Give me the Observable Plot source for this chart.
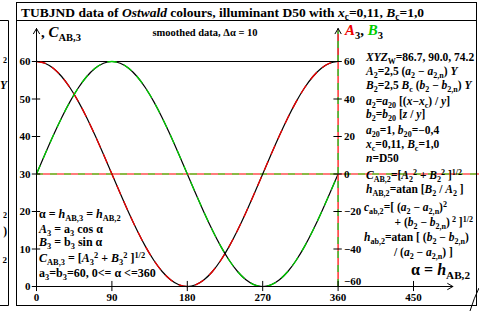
<!DOCTYPE html>
<html><head><meta charset="utf-8">
<script src="https://cdn.jsdelivr.net/npm/d3@7"></script>
<script src="https://cdn.jsdelivr.net/npm/@observablehq/plot@0.6"></script>
<style>
body{margin:0;background:#fff}
svg text{font-family:"Liberation Serif","Times New Roman",serif;white-space:pre}
</style>
</head><body><div id="chart"></div>
<script>
// hue angle alpha (degrees), smoothed data with step 10
const alpha = [0,10,20,30,40,50,60,70,80,90,100,110,120,130,140,150,160,170,180,190,200,210,220,230,240,250,260,270,280,290,300,310,320,330,340,350,360];
// A3 (right axis, red)
const A3 = [60,59.1,56.4,52.0,46.0,38.6,30.0,20.5,10.4,0,-10.4,-20.5,-30.0,-38.6,-46.0,-52.0,-56.4,-59.1,-60,-59.1,-56.4,-52.0,-46.0,-38.6,-30.0,-20.5,-10.4,0,10.4,20.5,30.0,38.6,46.0,52.0,56.4,59.1,60];
// B3 (right axis, green)
const B3 = [0,10.4,20.5,30.0,38.6,46.0,52.0,56.4,59.1,60,59.1,56.4,52.0,46.0,38.6,30.0,20.5,10.4,0,-10.4,-20.5,-30.0,-38.6,-46.0,-52.0,-56.4,-59.1,-60,-59.1,-56.4,-52.0,-46.0,-38.6,-30.0,-20.5,-10.4,0];
// C_AB,3 (left axis, black)
const cabAlpha = [0, 360];
const CAB3 = [60, 60];
// ticks
const xTicks = [0, 90, 180, 270, 360, 450];
const leftTicks = [0, 10, 20, 30, 40, 50, 60];
const rightTicks = [60, 40, 20, 0, -20, -40];
const rightLowTick = [-60];
// axis extents
const xAxisEnd = 497;     // alpha units, arrow tip
const zeroLineEnd = 530;  // alpha units
const yAxisTopLeft = 68.8; // left-axis units, arrow tip

const toY = L => 2 * L - 60; // left-axis value -> right-axis scale

const rowsA = alpha.map((a, i) => ({a, v: A3[i]}));
const rowsB = alpha.map((a, i) => ({a, v: B3[i]}));
const rowsC = cabAlpha.map((a, i) => ({a, v: toY(CAB3[i])}));

const RED = "#ee0000", GREEN = "#00cc00";
const FONT = "Liberation Serif, Times New Roman, serif";
const tx = {fontFamily: FONT, fontWeight: "bold", fontSize: 11, fill: "black"};
const topY = toY(yAxisTopLeft);

const chart = Plot.plot({
  width: 479, height: 311,
  marginLeft: 0, marginRight: 0, marginTop: 0, marginBottom: 0,
  style: {background: "white", overflow: "visible"},
  x: {domain: [0, 450], range: [36, 413], axis: null},
  y: {domain: [-60, 60], range: [286, 61], axis: null},
  marks: [
    // zero line of A3/B3 (= 30 on left axis)
    Plot.ruleY([0], {x1: 0, x2: zeroLineEnd, stroke: "#ff5050", strokeWidth: 1.5}),
    Plot.ruleY([0], {x1: 0, x2: zeroLineEnd, stroke: "#66cc33", strokeWidth: 1.5, strokeDasharray: "7,7"}),
    // C_AB,3
    Plot.line(rowsC, {x: "a", y: "v", stroke: "black", strokeWidth: 1}),
    // curves
    Plot.line(rowsA, {x: "a", y: "v", stroke: "black", strokeWidth: 1.2, curve: "natural"}),
    Plot.line(rowsA, {x: "a", y: "v", stroke: RED, strokeWidth: 1.3, curve: "natural", strokeDasharray: "9,8"}),
    Plot.line(rowsB, {x: "a", y: "v", stroke: "black", strokeWidth: 1.2, curve: "natural"}),
    Plot.line(rowsB, {x: "a", y: "v", stroke: GREEN, strokeWidth: 1.3, curve: "natural", strokeDasharray: "9,8"}),
    // right axis (red/green dashed) with arrow
    Plot.arrow([{x1: 360, y1: 60, x2: 360, y2: topY}], {x1: "x1", y1: "y1", x2: "x2", y2: "y2", stroke: "black", strokeWidth: 1, headLength: 9}),
    Plot.ruleX([360], {y1: -60, y2: topY - 1.5, stroke: "#ff3030", strokeWidth: 1.5}),
    Plot.ruleX([360], {y1: -60, y2: topY - 1.5, stroke: "#33cc33", strokeWidth: 1.5, strokeDasharray: "7,7"}),
    // left axis & x axis arrows
    Plot.arrow([{x1: 0, y1: -60, x2: 0, y2: topY}], {x1: "x1", y1: "y1", x2: "x2", y2: "y2", stroke: "black", strokeWidth: 1, headLength: 9}),
    Plot.arrow([{x1: 0, y1: -60, x2: xAxisEnd, y2: -60}], {x1: "x1", y1: "y1", x2: "x2", y2: "y2", stroke: "black", strokeWidth: 1, headLength: 9}),
    // tick marks
    Plot.ruleY(leftTicks, {y: d => toY(d), x1: -5, x2: 5, stroke: "black"}),
    Plot.ruleY(rightTicks, {y: d => d, x1: 355, x2: 365, stroke: "black"}),
    Plot.ruleX(xTicks, {x: d => d, y1: -62.7, y2: -57.3, stroke: "black"}),
    // tick labels
    Plot.text(leftTicks, {x: 0, y: d => toY(d), text: d => String(d), textAnchor: "end", dx: -6, ...tx}),
    Plot.text(rightTicks, {x: 360, y: d => d, text: d => d < 0 ? "\u2212" + (-d) : String(d), textAnchor: "start", dx: 6, ...tx}),
    Plot.text(rightLowTick, {x: 360, y: d => d, text: d => "\u2212" + (-d), textAnchor: "start", dx: 6, dy: -5, ...tx}),
    Plot.text(xTicks, {x: d => d, y: -60, text: d => String(d), dy: 11, ...tx})
  ]
});
document.getElementById("chart").appendChild(chart);

const svg = d3.select(chart);
// frames
const g = svg.append("g").attr("stroke", "black").attr("fill", "none").attr("stroke-width", 1);
g.append("rect").attr("x", 16.5).attr("y", 2.5).attr("width", 460).attr("height", 303);
g.append("line").attr("x1", 16.5).attr("x2", 476.5).attr("y1", 20.5).attr("y2", 20.5);
g.append("path").attr("d", "M0,20.5H8.5V305.5H0");
g.append("path").attr("d", "M479,288 Q474,298 470,311");

function rich(x, y, str, {size = 11.5, anchor = "start", weight = "bold"} = {}) {
  const t = svg.append("text").attr("x", x).attr("y", y).attr("font-size", size)
    .attr("font-weight", weight).attr("text-anchor", anchor).attr("fill", "black")
    .attr("font-family", FONT);
  let cur = 0, rendered = 0, small = false, it = false, buf = "", color = null;
  const flush = () => {
    if (!buf) return;
    const ts = t.append("tspan").text(buf);
    if (it) ts.attr("font-style", "italic");
    if (small) ts.attr("font-size", size * 0.7);
    if (color) ts.attr("fill", color);
    if (cur !== rendered) { ts.attr("dy", cur - rendered); rendered = cur; }
    buf = "";
  };
  for (let i = 0; i < str.length; i++) {
    const c = str[i];
    if (c === "*") { flush(); it = !it; }
    else if (c === "@") { flush(); const k = str[++i]; color = k === "r" ? RED : k === "g" ? GREEN : null; }
    else if ((c === "_" || c === "^") && str[i + 1] === "{") { flush(); cur = c === "_" ? size * 0.25 : -size * 0.36; small = true; i++; }
    else if (c === "}") { flush(); cur = 0; small = false; }
    else buf += c;
  }
  flush();
}

// title
rich(21, 17, "TUBJND data of *Ostwald* colours, illuminant D50 with *x*_{c}=0,11, *B*_{c}=1,0", {size: 13.5});
// axis titles
rich(41, 37, ", *C*_{AB,3}", {size: 15});
rich(205, 36, "smoothed data, \u0394\u03b1 = 10", {size: 10.5, anchor: "middle"});
rich(345, 35, "@r*A*@k_{3}, @g*B*@k_{3}", {size: 15});

// right block
const R = 366;
rich(R, 61, "*XYZ*_{W}=86.7, 90.0, 74.2");
rich(R, 75, "*A*_{2}=2,5 (*a*_{2} \u2212 *a*_{2,n}) *Y*");
rich(R, 89, "*B*_{2}=2,5 *B*_{c} (*b*_{2} \u2212 *b*_{2,n}) *Y*");
rich(R, 105, "*a*_{2}=*a*_{20} [(*x*\u2212*x*_{c}) / *y*]");
rich(R, 118, "*b*_{2}=*b*_{20} [*z* / *y*]");
rich(R, 134, "*a*_{20}=1, *b*_{20}=\u22120,4");
rich(R, 148, "*x*_{c}=0,11, *B*_{c}=1,0");
rich(R, 162, "*n*=D50");
rich(R, 179, "*C*_{AB,2}=[*A*_{2}^{2} + *B*_{2}^{2} ]^{1/2}");
rich(R, 193, "*h*_{AB,2}=atan [*B*_{2} / *A*_{2} ]");
rich(364, 211, "*c*_{ab,2}=[ (*a*_{2} \u2212 *a*_{2,n})^{2}");
rich(473, 226, "+ (*b*_{2} \u2212 *b*_{2,n})^{ 2} ]^{1/2}", {anchor: "end"});
rich(364, 241, "*h*_{ab,2}=atan [ (*b*_{2} \u2212 *b*_{2,n})");
rich(394, 256, "/ (*a*_{2} \u2212 *a*_{2,n}) ]");
rich(470, 275, "\u03b1 = *h*_{AB,2}", {size: 16, anchor: "end"});

// left block
const L = 39;
rich(L, 218, "\u03b1 = *h*_{AB,3} = *h*_{AB,2}", {size: 12});
rich(L, 233, "*A*_{3} = a_{3} cos \u03b1", {size: 12});
rich(L, 246, "*B*_{3} = b_{3} sin \u03b1", {size: 12});
rich(L, 262, "*C*_{AB,3} = [*A*_{3}^{2} + *B*_{3}^{2} ]^{1/2}", {size: 12});
rich(L, 277, "a_{3}=b_{3}=60, 0<= \u03b1 <=360", {size: 12});

// remnants of the neighbouring panel on the left
rich(7, 60, "_{2}", {anchor: "end"});
rich(7, 89, "*Y*", {anchor: "end"});
rich(7, 215, "_{2}", {anchor: "end"});
rich(7, 235, ")", {anchor: "end"});
rich(7, 263, "2", {anchor: "end", size: 9});
</script></body></html>
